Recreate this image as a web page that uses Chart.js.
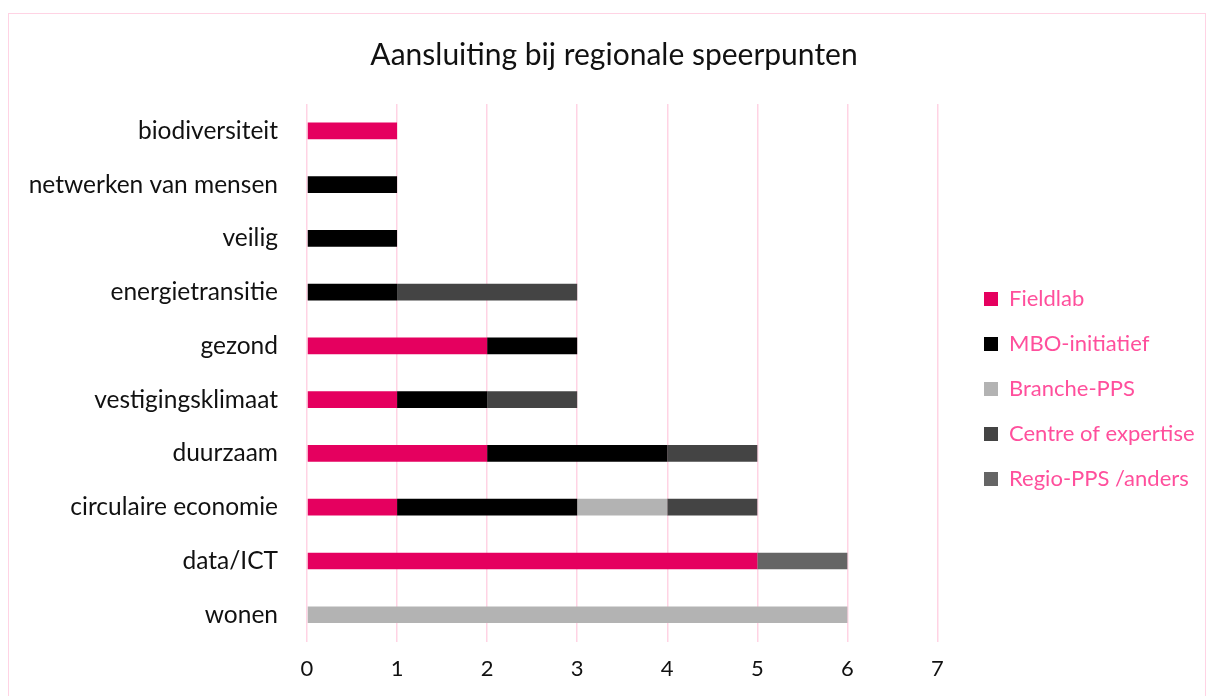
<!DOCTYPE html>
<html>
<head>
<meta charset="utf-8">
<script src="https://cdn.jsdelivr.net/npm/chart.js@4.4.1/dist/chart.umd.min.js"></script>
<style>
  body { margin: 0; background: #fff; }
  #frame { position: absolute; left: 8px; top: 13px; width: 1198px; height: 700px; border: 1.5px solid #FFD3E4; box-sizing: border-box; }
  #wrap { position: absolute; left: 0; top: 0; width: 1208px; height: 696px; }
</style>
</head>
<body>
<div id="frame"></div>
<div id="wrap"><canvas id="myChart"></canvas></div>
<script>
// categories, top to bottom
var categories = ["biodiversiteit", "netwerken van mensen", "veilig", "energietransitie", "gezond",
  "vestigingsklimaat", "duurzaam", "circulaire economie", "data/ICT", "wonen"];

// series values
var fieldlab = [1, 0, 0, 0, 2, 1, 2, 1, 5, 0];
var mboInitiatief = [0, 1, 1, 1, 1, 1, 2, 2, 0, 0];
var branchePPS = [0, 0, 0, 0, 0, 0, 0, 1, 0, 6];
var centreOfExpertise = [0, 0, 0, 2, 0, 1, 1, 1, 0, 0];
var regioPPS = [0, 0, 0, 0, 0, 0, 0, 0, 1, 0];

var xTicks = [0, 1, 2, 3, 4, 5, 6, 7];

var gridPink = "#FFD3E4";

// move legend and title a bit, like the original
const placeBlocks = {
  id: "placeBlocks",
  afterLayout(chart) {
    const lg = chart.legend;
    lg.left = 961;
    lg.right = 1208;
    lg.top = 265;
    lg.bottom = 690;
    const t = chart.titleBlock;
    t.left = 20;
    t.right = 1208;
  }
};

new Chart("myChart", {
  type: "bar",
  data: {
    labels: categories,
    datasets: [
      { label: "Fieldlab", data: fieldlab, backgroundColor: "#E5005F" },
      { label: "MBO-initiatief", data: mboInitiatief, backgroundColor: "#000000" },
      { label: "Branche-PPS", data: branchePPS, backgroundColor: "#B3B3B3" },
      { label: "Centre of expertise", data: centreOfExpertise, backgroundColor: "#444444" },
      { label: "Regio-PPS /anders", data: regioPPS, backgroundColor: "#656565" }
    ]
  },
  options: {
    indexAxis: "y",
    responsive: true,
    maintainAspectRatio: false,
    animation: false,
    barPercentage: 0.62,
    categoryPercentage: 0.5,
    layout: { padding: { top: 0, bottom: 0, left: 0, right: 27 } },
    scales: {
      x: {
        stacked: true,
        min: 0,
        max: 7,
        afterBuildTicks: function (s) { s.ticks = xTicks.map(function (v) { return { value: v }; }); },
        grid: { color: gridPink, lineWidth: 1.5, drawTicks: false },
        border: { display: false },
        ticks: { padding: 14, color: "#111", font: { family: "Lato", size: 22 } }
      },
      y: {
        stacked: true,
        grid: { display: false, drawTicks: false },
        border: { display: false },
        afterFit: function (s) { s.width = 307; },
        ticks: { padding: 29, color: "#111", font: { family: "Lato", size: 24.5 } }
      }
    },
    plugins: {
      title: {
        display: true,
        text: "Aansluiting bij regionale speerpunten",
        color: "#111",
        font: { family: "Lato", size: 30, weight: "normal" },
        padding: { top: 37, bottom: 31 }
      },
      legend: {
        position: "right",
        align: "start",
        labels: {
          boxWidth: 14,
          boxHeight: 14,
          padding: 23,
          color: "#FF4F9C",
          font: { family: "Lato", size: 22 }
        }
      },
      tooltip: { enabled: false }
    }
  },
  plugins: [placeBlocks]
});
</script>
</body>
</html>
